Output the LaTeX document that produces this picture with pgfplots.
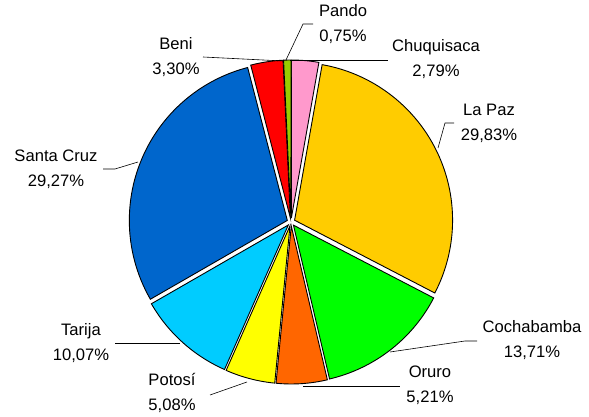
\documentclass[border=0pt]{standalone}
\usepackage{pgfplots}
\pgfplotsset{compat=1.18}
\usepackage{pgfplotstable}
\usepackage{fontspec}
\setmainfont{Liberation Sans}

\definecolor{cChuq}{HTML}{FF99CC}
\definecolor{cLaPaz}{HTML}{FFCC00}
\definecolor{cCoch}{HTML}{00FF00}
\definecolor{cOruro}{HTML}{FF6600}
\definecolor{cPotosi}{HTML}{FFFF00}
\definecolor{cTarija}{HTML}{00CCFF}
\definecolor{cSanta}{HTML}{0066CC}
\definecolor{cBeni}{HTML}{FF0000}
\definecolor{cPando}{HTML}{99CC00}

\tikzset{lbl/.style={font=\fontsize{16.6}{25}\selectfont, align=center, inner sep=0pt}}

% share of each department, clockwise from 12 o'clock
\pgfplotstableread{
name        value  col
Chuquisaca  2.79   cChuq
LaPaz       29.83  cLaPaz
Cochabamba  13.71  cCoch
Oruro       5.21   cOruro
Potosi      5.08   cPotosi
Tarija      10.07  cTarija
SantaCruz   29.27  cSanta
Beni        3.30   cBeni
Pando       0.75   cPando
}\piedata

\begin{document}
\begin{tikzpicture}
\def\astart{90}
\begin{axis}[
    name=pie,
    scale only axis, width=589pt, height=417pt,
    xmin=0, xmax=589, ymin=0, ymax=417,
    hide axis, clip=false,
]
% slices, each pushed out a little along its middle angle
\pgfplotsforeachungrouped \i in {0,...,8}{%
    \pgfplotstablegetelem{\i}{value}\of\piedata \let\sliceval\pgfplotsretval
    \pgfplotstablegetelem{\i}{col}\of\piedata \let\slicecol\pgfplotsretval
    \pgfmathsetmacro\aend{\astart-3.6*\sliceval}
    \pgfmathsetmacro\amid{(\astart+\aend)/2}
    \pgfmathsetmacro\ccx{291+4*cos(\amid)}
    \pgfmathsetmacro\ccy{195+4*sin(\amid)}
    \edef\cmd{\noexpand\filldraw[fill=\slicecol, draw=black, line width=0.9pt]
        (axis cs:\ccx,\ccy) -- ++(\astart:158pt)
        arc[start angle=\astart, end angle=\aend, radius=158pt] -- cycle;}
    \cmd
    \global\let\astart\aend
}

% leader lines (y measured from the bottom)
\draw[black, line width=0.6pt] (axis cs:286,357) -- (axis cs:303,393) -- (axis cs:313,393);
\draw[black, line width=0.6pt] (axis cs:290,357) -- (axis cs:388,357);
\draw[black, line width=0.6pt] (axis cs:203,360) -- (axis cs:283,356);
\draw[black, line width=0.6pt] (axis cs:438,269) -- (axis cs:445,294) -- (axis cs:454,294);
\draw[black, line width=0.6pt] (axis cs:390,65) -- (axis cs:465,76) -- (axis cs:477,76);
\draw[black, line width=0.6pt] (axis cs:303,31) -- (axis cs:400,31);
\draw[black, line width=0.6pt] (axis cs:210,22) -- (axis cs:247,35);
\draw[black, line width=0.6pt] (axis cs:115,74) -- (axis cs:180,74);
\draw[black, line width=0.6pt] (axis cs:103,248) -- (axis cs:115,248) -- (axis cs:138,255);

% labels
\node[lbl] at (axis cs:343,393) {Pando\\0,75\%};
\node[lbl] at (axis cs:436,358) {Chuquisaca\\2,79\%};
\node[lbl] at (axis cs:176,360) {Beni\\3,30\%};
\node[lbl] at (axis cs:489,294) {La Paz\\29,83\%};
\node[lbl] at (axis cs:532,77) {Cochabamba\\13,71\%};
\node[lbl] at (axis cs:430,32) {Oruro\\5,21\%};
\node[lbl] at (axis cs:172,24) {Potosí\\5,08\%};
\node[lbl] at (axis cs:81,74) {Tarija\\10,07\%};
\node[lbl] at (axis cs:56,248) {Santa Cruz\\29,27\%};
\end{axis}
\pgfresetboundingbox
\useasboundingbox (pie.south west) rectangle (pie.north east);
\end{tikzpicture}
\end{document}
